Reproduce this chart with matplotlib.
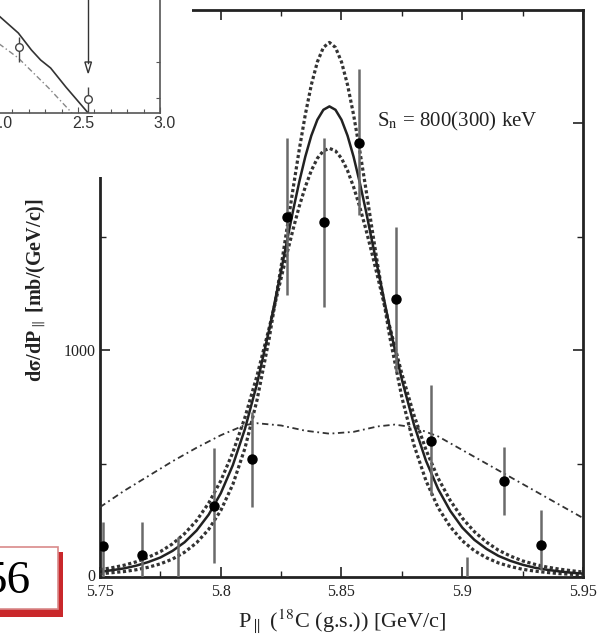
import matplotlib
matplotlib.use("Agg")
import matplotlib.pyplot as plt
from matplotlib.patches import Rectangle, Polygon
from matplotlib.ticker import MultipleLocator, FixedLocator, NullFormatter
from matplotlib.transforms import ScaledTranslation

plt.rcParams['font.family'] = ['Liberation Serif', 'DejaVu Serif']
plt.rcParams['mathtext.fontset'] = 'stix'

# ---------------- data (main panel) ----------------
p_grid = [5.750, 5.755, 5.760, 5.765, 5.770, 5.775, 5.780, 5.785, 5.790, 5.795,
          5.800, 5.805, 5.810, 5.815, 5.820, 5.825,
          5.8275, 5.830, 5.8325, 5.835, 5.8375, 5.840, 5.8425, 5.845,
          5.8475, 5.850, 5.8525, 5.855, 5.8575, 5.860, 5.8625, 5.865,
          5.870, 5.875, 5.880, 5.885, 5.890, 5.895, 5.900, 5.905, 5.910,
          5.915, 5.920, 5.925, 5.930, 5.935, 5.940, 5.945, 5.950]
curve_central = [23, 30, 38, 50, 66, 86, 115, 153, 205, 275,
                 369, 493, 652, 851, 1088, 1351,
                 1486, 1618, 1742, 1853, 1946, 2016, 2060, 2075,
                 2060, 2016, 1946, 1853, 1742, 1620, 1488, 1360,
                 1100, 870, 672, 512, 388, 292, 218, 164, 124,
                 93, 71, 54, 41, 32, 25, 19, 15]
curve_narrow = [14, 19, 24, 32, 43, 58, 79, 109, 151, 210,
                293, 408, 567, 779, 1048, 1369,
                1542, 1716, 1884, 2038, 2170, 2271, 2335, 2357,
                2335, 2271, 2170, 2038, 1884, 1718, 1545, 1375,
                1058, 792, 582, 424, 306, 222, 160, 116, 85,
                62, 46, 34, 26, 20, 15, 12, 9]
curve_wide = [32, 41, 52, 67, 87, 112, 146, 191, 249, 326,
              424, 549, 703, 887, 1096, 1318,
              1429, 1535, 1634, 1720, 1792, 1846, 1879, 1890,
              1879, 1846, 1792, 1720, 1634, 1537, 1432, 1322,
              1102, 896, 714, 560, 436, 338, 260, 200, 154,
              118, 92, 71, 56, 44, 35, 28, 22]

dd_x = [5.750, 5.760, 5.770, 5.780, 5.790, 5.800, 5.810, 5.815, 5.825, 5.835,
        5.845, 5.855, 5.865, 5.872, 5.880, 5.890, 5.900, 5.910, 5.920, 5.930,
        5.940, 5.950]
dd_y = [308, 380, 445, 510, 570, 625, 670, 678, 668, 645,
        632, 640, 664, 672, 660, 620, 560, 500, 440, 380,
        320, 260]

pt_x = [5.7512, 5.7674, 5.7971, 5.8128, 5.8273, 5.8426, 5.8574, 5.8727,
        5.8872, 5.9174, 5.9326]
pt_y = [137, 97, 313, 520, 1586, 1564, 1912, 1225, 599, 423, 141]
pt_lo = [0, 0, 62, 308, 1242, 1189, 1595, 903, 361, 273, 31]
pt_hi = [242, 242, 568, 727, 1934, 1934, 2242, 1542, 846, 573, 295]

bar_only_x = [5.7822, 5.9021]
bar_only_lo = [0, 0]
bar_only_hi = [176, 88]

x_ticks = [5.75, 5.80, 5.85, 5.90, 5.95]
x_ticklabels = ['5.75', '5.8', '5.85', '5.9', '5.95']
y_ticks = [0, 1000, 2000]
y_ticklabels = ['0', '1000', '']   # 2000 label hidden under the inset picture

# ---------------- data (inset, partly visible) ----------------
in_solid_x = [1.99, 2.012, 2.136, 2.216, 2.272, 2.333, 2.426, 2.562]
in_solid_y = [1.00, 0.98, 0.80, 0.63, 0.53, 0.45, 0.26, 0.0]
in_dd_x = [1.99, 2.012, 2.136, 2.321, 2.463]
in_dd_y = [0.73, 0.70, 0.55, 0.25, 0.0]
in_pt_x = [2.142, 2.562]
in_pt_y = [0.66, 0.14]
in_pt_lo = [0.51, 0.0]
in_pt_hi = [0.76, 0.26]
in_arrow_x = 2.562
in_arrow_tip = 0.40
in_xticklabels = ['2.0', '2.5', '3.0']

W, H = 603, 643
fig = plt.figure(figsize=(W / 100, H / 100), dpi=100)

def fx(px):
    return px / W

def fy(py):
    return 1 - py / H

# ---------------- main axes ----------------
ax = fig.add_axes([fx(100), fy(577), fx(583) - fx(100), fy(10) - fy(577)])
ax.set_xlim(5.75, 5.95)
ax.set_ylim(0, 2500)

ink = '#222222'
ax.plot(p_grid, curve_narrow, linestyle=(0, (1, 0.8)), color='#333333', lw=2.3, zorder=3)
ax.plot(p_grid, curve_wide, linestyle=(0, (1, 0.8)), color='#333333', lw=2.3, zorder=3)
ax.plot(p_grid, curve_central, linestyle='-', color=ink, lw=1.8, zorder=4)
ax.plot(dd_x, dd_y, linestyle=(0, (3.5, 2, 1, 2)), color='#333333', lw=1.3, zorder=3)

lo_err = [y - l for y, l in zip(pt_y, pt_lo)]
hi_err = [h - y for y, h in zip(pt_y, pt_hi)]
ax.errorbar(pt_x, pt_y, yerr=[lo_err, hi_err], fmt='o', color='black', ms=6.5,
            ecolor='#6a6a6a', elinewidth=1.8, capsize=0, zorder=5)
ax.vlines(bar_only_x, bar_only_lo, bar_only_hi, colors='#6a6a6a', lw=1.8, zorder=5)

ax.text(5.8649, 1987, r'S$_{\rm n}$ = 800(300) keV', fontsize=15, color=ink,
        ha='left', va='baseline')

ax.xaxis.set_major_locator(FixedLocator(x_ticks))
ax.set_xticklabels(x_ticklabels)
ax.xaxis.set_minor_locator(MultipleLocator(0.025))
ax.yaxis.set_major_locator(FixedLocator(y_ticks))
ax.set_yticklabels(y_ticklabels)
ax.yaxis.set_minor_locator(MultipleLocator(500))
ax.tick_params(which='both', direction='in', top=True, right=True, colors=ink,
               labelsize=11.5, pad=3)
ax.tick_params(axis='x', which='major', pad=5)
ax.tick_params(which='major', length=7, width=1.2)
ax.tick_params(which='minor', length=4, width=1.0)
for s in ax.spines.values():
    s.set_linewidth(2.0)
    s.set_color(ink)
# the "0" label sits a little above the axis line, as in the original
lift = ScaledTranslation(0, 2 / 100, fig.dpi_scale_trans)
ylabs = ax.get_yticklabels()
ylabs[0].set_transform(ylabs[0].get_transform() + lift)

ax.set_xlabel(r'P$_{\parallel}$ ($^{18}$C (g.s.)) [GeV/c]', fontsize=16, color=ink)
ax.xaxis.set_label_coords(0.501, -0.055)
ax.set_ylabel(r'd$\mathbf{\sigma}$/dP$_{\parallel}$ [mb/(GeV/c)]', fontsize=14.5,
              fontweight='bold', color=ink)
ax.yaxis.set_label_coords(-0.108, 0.506)

# ---------------- inset (overlapping picture, top-left) ----------------
cover = fig.add_axes([0, fy(177), fx(192), 177 / H], zorder=10)
cover.set_facecolor('white')
cover.set_axis_off()
cover.add_patch(Rectangle((0, 0), 1, 1, transform=cover.transAxes, color='white'))

inset = fig.add_axes([fx(-4), fy(113), fx(164), 213 / H], zorder=11)
inset.set_facecolor('none')
inset.set_xlim(2.0, 3.0)
inset.set_ylim(0, 2.13)
gray = '#555555'
inset.plot(in_solid_x, in_solid_y, color='#333333', lw=1.2, clip_on=True)
inset.plot(in_dd_x, in_dd_y, color='#888888', lw=1.0, linestyle=(0, (4, 2, 1, 2)))
inset.errorbar(in_pt_x, in_pt_y,
               yerr=[[y - l for y, l in zip(in_pt_y, in_pt_lo)],
                     [h - y for y, h in zip(in_pt_y, in_pt_hi)]],
               fmt='o', mfc='white', mec='#444444', ms=5.5, ecolor='#444444',
               elinewidth=1.0, capsize=0)
inset.plot([in_arrow_x, in_arrow_x], [2.2, in_arrow_tip + 0.1], color='#333333', lw=1.0,
           clip_on=False)
inset.add_patch(Polygon([[in_arrow_x - 0.02, in_arrow_tip + 0.11],
                         [in_arrow_x + 0.02, in_arrow_tip + 0.11],
                         [in_arrow_x, in_arrow_tip]],
                        closed=True, facecolor='white', edgecolor='#333333', lw=1.0))
inset.xaxis.set_major_locator(FixedLocator([2.0, 2.5, 3.0]))
inset.set_xticklabels(in_xticklabels, family=['Liberation Sans', 'DejaVu Sans'])
inset.xaxis.set_minor_locator(MultipleLocator(0.1))
inset.yaxis.set_major_locator(FixedLocator([0.15, 0.51]))
inset.yaxis.set_major_formatter(NullFormatter())
inset.tick_params(which='both', direction='in', right=True, left=False, top=False,
                  colors=gray, labelsize=11.5, pad=2)
inset.tick_params(axis='x', which='major', length=4, width=0.8, labelcolor='#333333')
inset.tick_params(axis='x', which='minor', length=3, width=0.8)
inset.tick_params(axis='y', length=3, width=0.8)
shift = ScaledTranslation(5 / 100, 0, fig.dpi_scale_trans)
for lab in inset.get_xticklabels():
    lab.set_transform(lab.get_transform() + shift)
for name, s in inset.spines.items():
    s.set_color(gray)
    s.set_linewidth(1.2)
inset.spines['left'].set_visible(False)
inset.spines['top'].set_visible(False)

# ---------------- slide-number box "56" ----------------
fig.patches.append(Rectangle((fx(0), fy(617)), fx(63), (617 - 552) / H,
                             transform=fig.transFigure, facecolor='#c9282b',
                             edgecolor='none', zorder=20))
fig.patches.append(Rectangle((fx(-2), fy(609)), fx(60), (609 - 547) / H,
                             transform=fig.transFigure, facecolor='white',
                             edgecolor='#d98a8a', lw=1.2, zorder=21))
fig.text(fx(6.5), fy(582), '56', fontsize=34, color='black', ha='center', va='center',
         zorder=22)

fig.savefig('out.png', dpi=100)
